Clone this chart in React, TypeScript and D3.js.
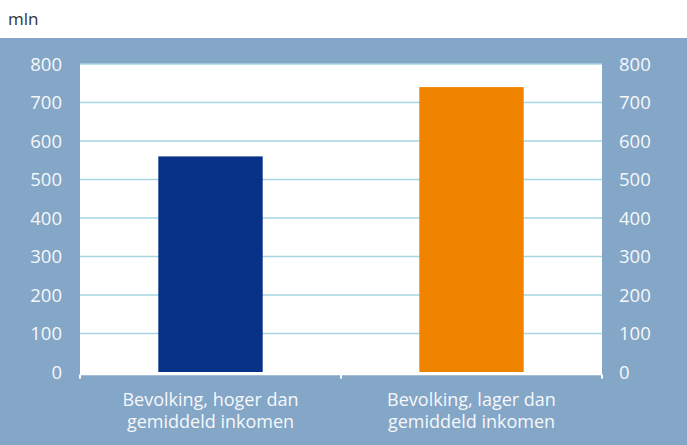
import React from 'react';
import * as d3 from 'd3';

const categories = ['Bevolking, hoger dan|gemiddeld inkomen', 'Bevolking, lager dan|gemiddeld inkomen'];
const values = [560, 740];
const barColors = ['#083288', '#f08400'];
const yTicks = [0, 100, 200, 300, 400, 500, 600, 700, 800];

const W = 687;
const H = 445;
const plot = { left: 80, right: 602, top: 64, zero: 372, bottom: 374.5 };

export default function App() {
  const x = d3.scaleBand<string>().domain(categories).range([plot.left, plot.right]).paddingInner(0).paddingOuter(0);
  const y = d3.scaleLinear().domain([0, 800]).range([plot.zero, plot.top]);
  const barW = x.bandwidth() * 0.4;
  const font = '"Open Sans", sans-serif';

  return (
    <svg width={W} height={H} style={{ position: 'absolute', left: 0, top: 0 }}>
      <rect x={0} y={0} width={W} height={H} fill="#ffffff" />
      <text x={8} y={25} fontFamily={font} fontSize={17} fill="#333">mln</text>
      <rect x={0} y={38} width={W} height={H - 38} fill="#84a6c7" />
      <rect x={plot.left} y={plot.top} width={plot.right - plot.left} height={plot.bottom - plot.top} fill="#ffffff" />
      {yTicks.map((t) => (
        <g key={t}>
          {t > 0 && (
            <line x1={plot.left} x2={plot.right} y1={y(t)} y2={y(t)} stroke="#a6d6e2" strokeWidth={1.5} />
          )}
          <text x={62} y={y(t)} dy="0.36em" textAnchor="end" fontFamily={font} fontSize={18.5} fill="#f6f8fa">{t}</text>
          <text x={619} y={y(t)} dy="0.36em" textAnchor="start" fontFamily={font} fontSize={18.5} fill="#f6f8fa">{t}</text>
        </g>
      ))}
      {categories.map((c, i) => (
        <rect key={c} x={(x(c) || 0) + (x.bandwidth() - barW) / 2} y={y(values[i])} width={barW} height={plot.zero - y(values[i])} fill={barColors[i]} />
      ))}
      <line x1={plot.left} x2={plot.right} y1={plot.bottom} y2={plot.bottom} stroke="#ffffff" strokeWidth={1.5} />
      {[...categories.map((c) => x(c) || 0), plot.right].map((tx, i) => (
        <line key={i} x1={tx} x2={tx} y1={plot.bottom} y2={plot.bottom + 4} stroke="#ffffff" strokeWidth={2} />
      ))}
      {categories.map((c) => {
        const cx = (x(c) || 0) + x.bandwidth() / 2;
        return c.split('|').map((line, j) => (
          <text key={c + j} x={cx} y={406 + j * 22} textAnchor="middle" fontFamily={font} fontSize={18} fill="#f6f8fa">
            {line}
          </text>
        ));
      })}
    </svg>
  );
}
